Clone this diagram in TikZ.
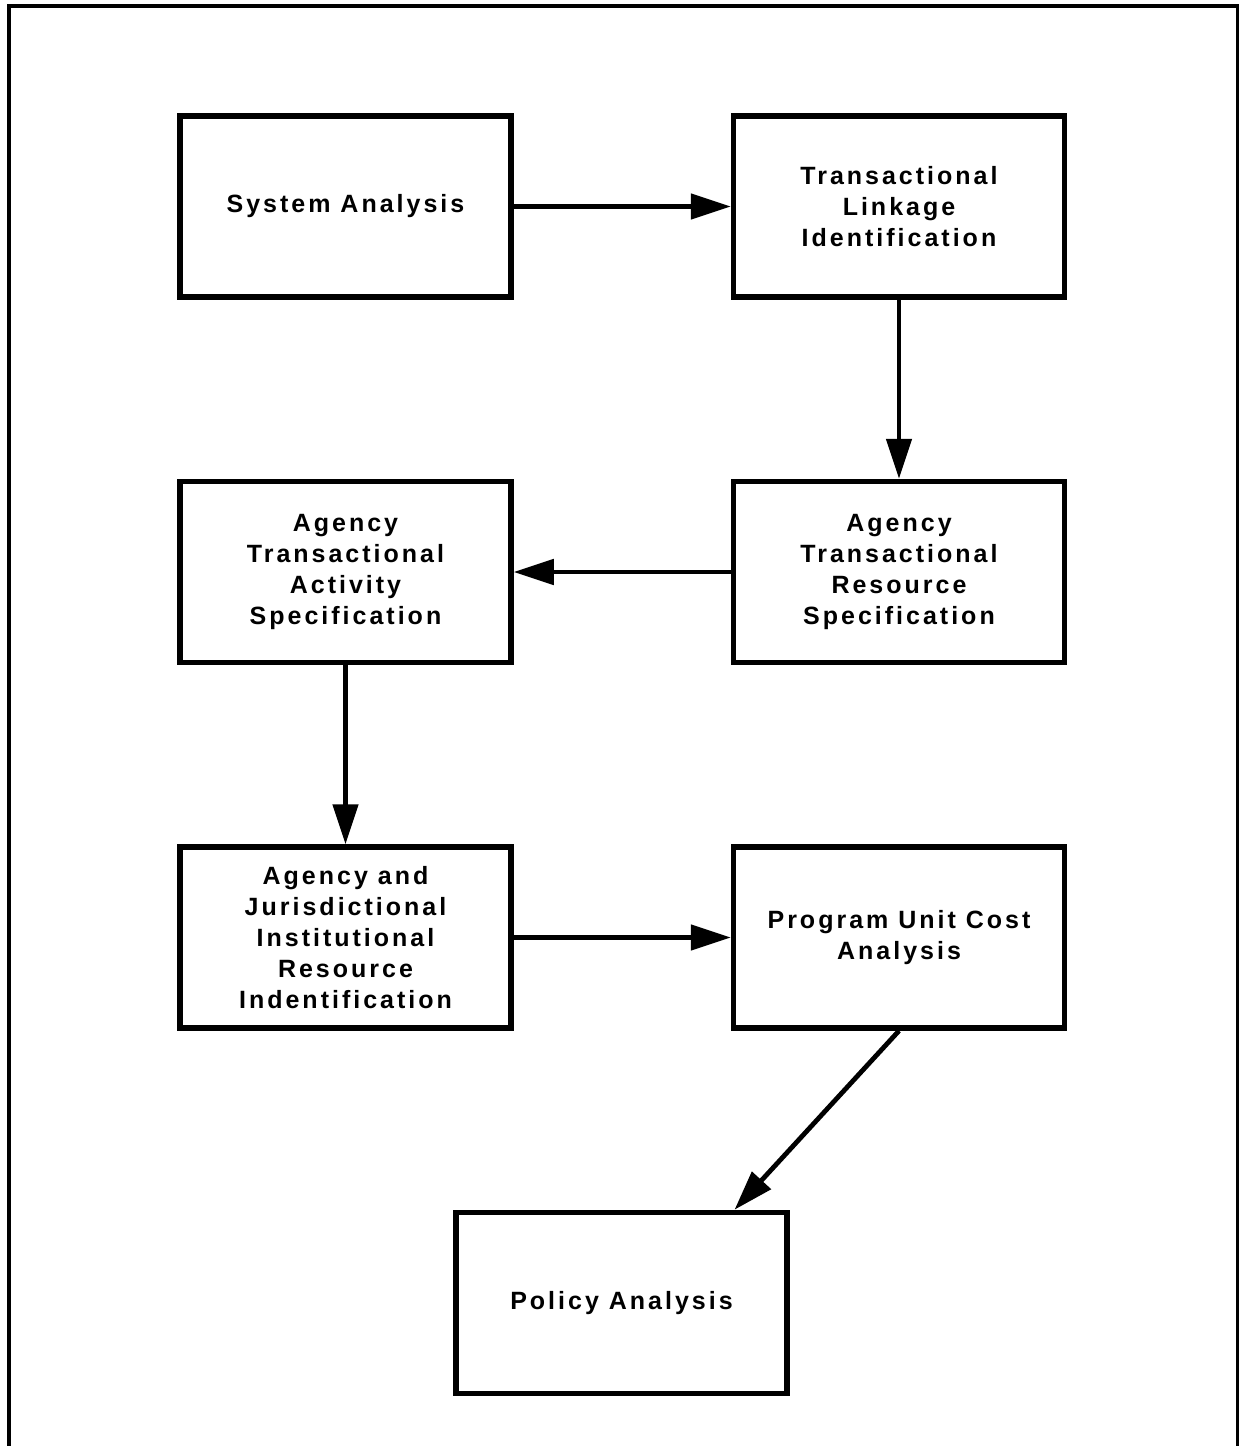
\documentclass[tikz,border=0pt]{standalone}
\usepackage{fontspec}
\setmainfont{Liberation Sans}[LetterSpace=12]
\usepackage{tikz}
\usetikzlibrary{arrows.meta,shapes}

\tikzset{
  stepbox/.style={draw, rectangle, line width=5.5pt, minimum width=331pt,
    minimum height=181pt, align=center,
    font=\fontsize{25pt}{31pt}\selectfont\bfseries},
  flow/.style={line width=4.8pt, -{Triangle[length=40pt,width=25pt]}}
}

\begin{document}
\begin{tikzpicture}[x=1pt,y=-1pt]
        \useasboundingbox (0,0) rectangle (1239,1446);
        % open frame round the page
        \draw[line width=3.3pt] (9,1446) -- (9,6) -- (1237.5,6) -- (1237.5,1446);
        \node[stepbox] (sysan) at (345.5,206.5) {System Analysis};
        \node[stepbox] (linkid) at (899,206.5) {Transactional\\Linkage\\Identification};
        \node[stepbox] (resspec) at (899,572) {Agency\\Transactional\\Resource\\Specification};
        \node[stepbox] (actspec) at (345.5,572) {Agency\\Transactional\\Activity\\Specification};
        \node[stepbox] (instres) at (345.5,937.5) {Agency and\\Jurisdictional\\Institutional\\Resource\\Indentification};
        \node[stepbox] (unitcost) at (899,937.5) {Program Unit Cost\\Analysis};
        \node[stepbox] (policy) at (621.5,1303) {Policy Analysis};
        \draw[flow] (sysan) -- (linkid);
        \draw[flow] (linkid) -- (resspec);
        \draw[flow] (resspec) -- (actspec);
        \draw[flow] (actspec) -- (instres);
        \draw[flow] (instres) -- (unitcost);
        \draw[flow] (unitcost.south) -- ([xshift=113pt]policy.north);
    \end{tikzpicture}
\end{document}
